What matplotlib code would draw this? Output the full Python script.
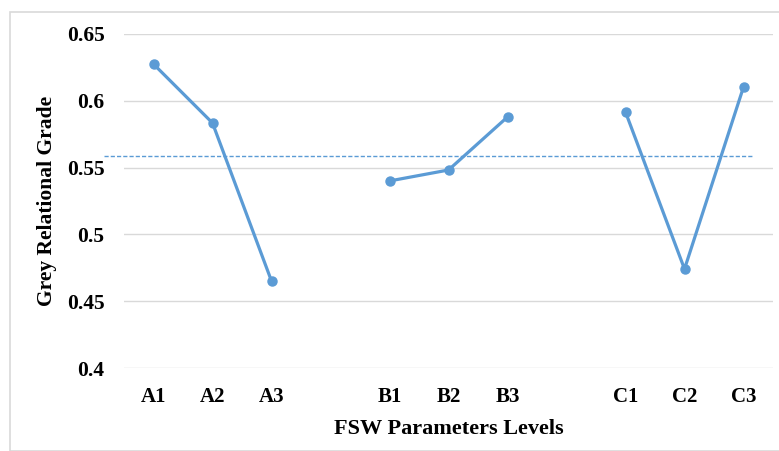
import numpy as np
import matplotlib.pyplot as plt
from matplotlib.patches import Rectangle

# grey relational grade per parameter level
labels_A = ["A1", "A2", "A3"]
labels_B = ["B1", "B2", "B3"]
labels_C = ["C1", "C2", "C3"]
grade_A = [0.6275, 0.5834, 0.4651]
grade_B = [0.5400, 0.5482, 0.5879]
grade_C = [0.5916, 0.4741, 0.6103]

blue = "#5B9BD5"
plt.rcParams['font.family'] = ['Liberation Serif', 'DejaVu Serif']
plt.rcParams['font.weight'] = 'bold'

fig = plt.figure(figsize=(7.79, 4.51), dpi=100)
ax = fig.add_axes([124/779, 1-368/451, (773-124)/779, (368-34)/451])

# light frame around chart area
fig.patches.append(Rectangle((10/779, 0), 1, 1-12/451, transform=fig.transFigure,
                             fill=False, edgecolor="#D9D9D9", lw=1.2))

pos_A = np.arange(0, 3)
pos_B = np.arange(4, 7)
pos_C = np.arange(8, 11)
for pos, g in [(pos_A, grade_A), (pos_B, grade_B), (pos_C, grade_C)]:
    ax.plot(pos, g, color=blue, lw=2.3, marker='o', ms=6.5, zorder=3)

mean_grade = np.mean(grade_A + grade_B + grade_C)
ax.plot([-0.84, 10.15], [mean_grade, mean_grade], color=blue, lw=1, ls=(0, (3, 1.5)),
        clip_on=False, zorder=2)

ax.set_xlim(-0.5, 10.5)
ax.set_ylim(0.4, 0.65)
ax.set_yticks([0.4, 0.45, 0.5, 0.55, 0.6, 0.65])
ax.set_yticklabels(["0.4", "0.45", "0.5", "0.55", "0.6", "0.65"])
ax.set_xticks(np.concatenate([pos_A, pos_B, pos_C]))
ax.set_xticklabels(labels_A + labels_B + labels_C)
ax.tick_params(axis='y', length=0, pad=14, labelsize=15.5)
ax.tick_params(axis='x', length=0, pad=14, labelsize=15)
ax.grid(axis='y', color="#D9D9D9", lw=1)
ax.set_axisbelow(True)
for s in ax.spines.values():
    s.set_visible(False)

ax.set_xlabel("FSW Parameters Levels", fontsize=16, fontweight='bold', labelpad=8)
ax.set_ylabel("Grey Relational Grade", fontsize=15.5, fontweight='bold', labelpad=7)

fig.savefig("out.png", dpi=100)
